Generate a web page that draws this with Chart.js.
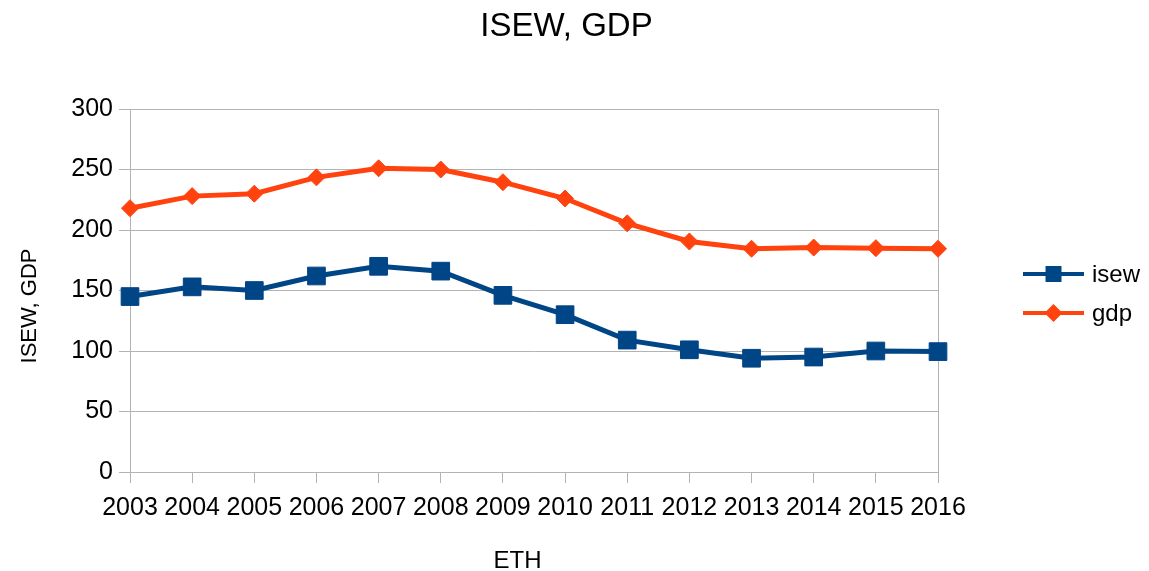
<!DOCTYPE html>
<html>
<head>
<meta charset="utf-8">
<script src="https://cdn.jsdelivr.net/npm/chart.js@4/dist/chart.umd.min.js"></script>
<style>
  html, body { margin: 0; padding: 0; background: #fff; }
  #wrap { width: 1149px; height: 571px; }
</style>
</head>
<body>
<div id="wrap"><canvas id="c" width="1149" height="571"></canvas></div>
<script>
const chartTitle = 'ISEW, GDP';
const xTitle = 'ETH';
const yTitle = 'ISEW, GDP';
const years = ['2003','2004','2005','2006','2007','2008','2009','2010','2011','2012','2013','2014','2015','2016'];
const isew = [145, 153, 150, 162, 170, 166, 146, 130, 109, 101, 94, 95, 100, 99.5];
const gdp  = [218, 228, 230, 243.5, 251, 250, 239.5, 226, 205.5, 190.5, 184.5, 185.5, 185, 184.5];
const yTicks = [0, 50, 100, 150, 200, 250, 300];

const FONT = '"Liberation Sans", Arial, sans-serif';
const GRID = '#b3b3b3';
const BLUE = '#004586';
const ORANGE = '#ff420e';

const textPlugin = {
  id: 'texts',
  afterDraw(chart) {
    const ctx = chart.ctx;
    ctx.save();
    ctx.fillStyle = '#000';
    // chart title
    ctx.font = '33px ' + FONT;
    ctx.textAlign = 'center';
    ctx.textBaseline = 'alphabetic';
    ctx.fillText(chartTitle, 566.5, 36);
    // x title
    ctx.font = '24px ' + FONT;
    ctx.fillText(xTitle, 517.5, 568);
    // y title
    ctx.save();
    ctx.translate(36, 306);
    ctx.rotate(-Math.PI / 2);
    ctx.font = '22px ' + FONT;
    ctx.fillText(yTitle, 0, 0);
    ctx.restore();
    // legend
    const rows = [274, 313];
    chart.data.datasets.forEach((ds, i) => {
      const y = rows[i];
      ctx.strokeStyle = ds.borderColor;
      ctx.lineWidth = 4;
      ctx.beginPath();
      ctx.moveTo(1023, y);
      ctx.lineTo(1084, y);
      ctx.stroke();
      ctx.fillStyle = ds.borderColor;
      ctx.beginPath();
      if (ds.pointStyle === 'rect') {
        ctx.rect(1053.5 - 8, y - 8, 16, 16);
      } else {
        ctx.moveTo(1053.5, y - 9);
        ctx.lineTo(1062.5, y);
        ctx.lineTo(1053.5, y + 9);
        ctx.lineTo(1044.5, y);
        ctx.closePath();
      }
      ctx.fill();
      ctx.fillStyle = '#000';
      ctx.font = '24px ' + FONT;
      ctx.textAlign = 'left';
      ctx.textBaseline = 'middle';
      ctx.fillText(ds.label, 1092, y + 1);
    });
    ctx.restore();
  }
};

new Chart(document.getElementById('c'), {
  type: 'line',
  data: {
    labels: years,
    datasets: [
      {
        label: 'isew', data: isew,
        borderColor: BLUE, backgroundColor: BLUE,
        borderWidth: 5, pointStyle: 'rect', pointRadius: 12.5,
        pointBorderWidth: 1, pointBackgroundColor: BLUE, pointBorderColor: BLUE,
        tension: 0
      },
      {
        label: 'gdp', data: gdp,
        borderColor: ORANGE, backgroundColor: ORANGE,
        borderWidth: 5, pointStyle: 'rectRot', pointRadius: 8.5,
        pointBorderWidth: 1, pointBackgroundColor: ORANGE, pointBorderColor: ORANGE,
        tension: 0
      }
    ]
  },
  options: {
    responsive: false,
    animation: false,
    devicePixelRatio: 1,
    layout: { padding: { left: 0, right: 211, top: 109, bottom: 0 } },
    plugins: {
      legend: { display: false },
      title: { display: false },
      tooltip: { enabled: false }
    },
    scales: {
      x: {
        type: 'category',
        offset: false,
        afterFit(scale) { scale.height = 99; },
        grid: {
          color: (c) => (c.index === 0 || c.index === years.length - 1) ? GRID : 'rgba(0,0,0,0)',
          tickColor: GRID,
          tickLength: 11,
          lineWidth: 1
        },
        border: { display: true, color: GRID, width: 1 },
        ticks: {
          color: '#000', font: { family: FONT, size: 25 },
          padding: 10, maxRotation: 0, autoSkip: false
        }
      },
      y: {
        min: 0, max: 300,
        afterFit(scale) { scale.width = 130; },
        afterBuildTicks(scale) { scale.ticks = yTicks.map(v => ({ value: v })); },
        grid: { color: GRID, tickColor: GRID, tickLength: 11, lineWidth: 1 },
        border: { display: true, color: GRID, width: 1 },
        ticks: {
          color: '#000', font: { family: FONT, size: 25 },
          padding: 6
        }
      }
    }
  },
  plugins: [textPlugin]
});
</script>
</body>
</html>
